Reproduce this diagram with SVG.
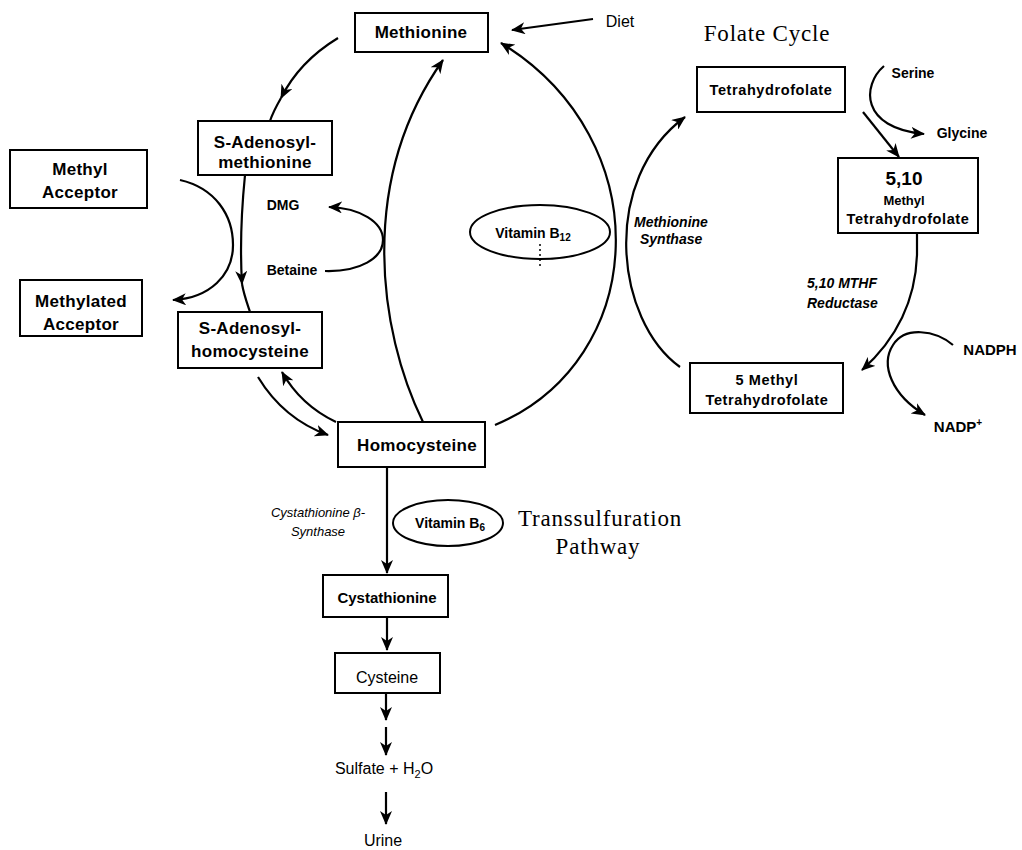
<svg xmlns="http://www.w3.org/2000/svg" width="1022" height="850" viewBox="0 0 1022 850">
<defs>
<marker id="ah" markerUnits="userSpaceOnUse" markerWidth="14" markerHeight="12" viewBox="0 0 14 12" refX="13" refY="6" orient="auto">
<path d="M0,0 L14,6 L0,12 L4,6 Z" fill="#000"/>
</marker>
<style>
.box{fill:#fff;stroke:#000;stroke-width:2}
.ell{fill:none;stroke:#000;stroke-width:2}
.c{fill:none;stroke:#000;stroke-width:2.2}
.a{marker-end:url(#ah)}
text{font-family:"Liberation Sans","DejaVu Sans",sans-serif;fill:#000;text-anchor:middle}
.m{font-size:17px;font-weight:bold;letter-spacing:0.3px}
.f{font-size:14.5px;font-weight:bold;letter-spacing:0.6px}
.s{font-size:14px;font-weight:bold}
.i{font-size:14px;font-weight:bold;font-style:italic;text-anchor:start}
.ir{font-size:13px;font-style:italic}
.r{font-size:16px}
.t{font-family:"Liberation Serif","DejaVu Serif",serif;font-size:23px;letter-spacing:0.8px}
</style>
</defs>

<g id="connectors">
<path class="c a" d="M593,19 L512,30"/>
<path class="c a" d="M338,38 C315,52 294,72 281,98"/>
<path class="c" d="M281,98 C277,105 273,112 270,121"/>
<path class="c a" d="M245,175 C241,215 240,250 242,284"/>
<path class="c" d="M242,284 C244,295 247,303 250,312"/>
<path class="c a" d="M180,180 C215,188 233,215 233,245 C233,275 210,298 173,300"/>
<path class="c a" d="M325,271 C360,272 383,258 383,240 C383,222 360,208 329,207"/>
<path class="c a" d="M423,422 C378,330 358,180 443,60"/>
<path class="c a" d="M495,425 C650,360 660,140 501,43"/>
<path class="c a" d="M680,367 C615,320 600,180 685,117"/>
<path class="c a" d="M863,112 L899,157"/>
<path class="c a" d="M884,66 C862,85 860,128 924,134"/>
<path class="c a" d="M917,233 L917,255 C915,310 890,345 862,370"/>
<path class="c a" d="M953,345 C935,330 905,326 893,345 C880,365 892,395 925,415"/>
<path class="c a" d="M258,377 C275,405 300,425 328,435"/>
<path class="c a" d="M336,422 C315,412 295,395 282,372"/>
<path class="c a" d="M387,467 L387,573"/>
<path class="c a" d="M387,617 L387,650"/>
<path class="c a" d="M386,693 L386,720"/>
<path class="c a" d="M386,727 L386,755"/>
<path class="c a" d="M386,792 L386,824"/>
<path d="M540,244 L540,267" fill="none" stroke="#000" stroke-width="1.5" stroke-dasharray="2,3"/>
</g>

<g id="methionine"><rect class="box" x="355" y="13" width="133" height="39"/><text class="m" x="421" y="38">Methionine</text></g>
<g id="diet"><text class="r" x="620" y="27">Diet</text></g>
<g id="folate-title"><text class="t" x="767" y="41">Folate Cycle</text></g>
<g id="sam"><rect class="box" x="198" y="121" width="134" height="54"/><text class="m" x="265" y="148">S-Adenosyl-</text><text class="m" x="265" y="168">methionine</text></g>
<g id="methyl-acceptor"><rect class="box" x="10" y="150" width="137" height="58"/><text class="m" x="80" y="175">Methyl</text><text class="m" x="80" y="198">Acceptor</text></g>
<g id="methylated-acceptor"><rect class="box" x="20" y="280" width="122" height="56"/><text class="m" x="81" y="307">Methylated</text><text class="m" x="81" y="330">Acceptor</text></g>
<g id="dmg"><text class="s" x="283" y="210">DMG</text></g>
<g id="betaine"><text class="s" x="292" y="275">Betaine</text></g>
<g id="vitb12"><ellipse class="ell" cx="540" cy="232" rx="70" ry="27"/><text class="s" x="533" y="238">Vitamin B<tspan font-size="10" dy="3">12</tspan></text></g>
<g id="ms-label"><text class="i" x="634" y="227">Methionine</text><text class="i" x="640" y="244">Synthase</text></g>
<g id="thf"><rect class="box" x="697" y="67" width="148" height="45"/><text class="f" x="771" y="95">Tetrahydrofolate</text></g>
<g id="serine"><text class="s" x="913" y="78">Serine</text></g>
<g id="glycine"><text class="s" x="962" y="138">Glycine</text></g>
<g id="mthf510"><rect class="box" x="838" y="158" width="140" height="75"/><text x="904" y="185" style="font-size:19px;font-weight:bold">5,10</text><text class="s" x="904" y="205" style="font-size:13px">Methyl</text><text class="f" x="908" y="224">Tetrahydrofolate</text></g>
<g id="mthfr-label"><text class="i" x="807" y="288">5,10 MTHF</text><text class="i" x="807" y="308">Reductase</text></g>
<g id="mthf5"><rect class="box" x="690" y="363" width="153" height="50"/><text class="f" x="767" y="385">5 Methyl</text><text class="f" x="767" y="405">Tetrahydrofolate</text></g>
<g id="nadph"><text class="s" x="990" y="355" style="font-size:15px">NADPH</text></g>
<g id="nadp"><text class="s" x="958" y="432" style="font-size:15px">NADP<tspan font-size="10" dy="-6">+</tspan></text></g>
<g id="sah"><rect class="box" x="178" y="312" width="144" height="56"/><text class="m" x="250" y="334">S-Adenosyl-</text><text class="m" x="250" y="357">homocysteine</text></g>
<g id="homocysteine"><rect class="box" x="338" y="422" width="147" height="45"/><text class="m" x="417" y="451">Homocysteine</text></g>
<g id="cbs-label"><text class="ir" x="318" y="517">Cystathionine β-</text><text class="ir" x="318" y="536">Synthase</text></g>
<g id="vitb6"><ellipse class="ell" cx="448" cy="523" rx="55" ry="23"/><text class="s" x="450" y="528">Vitamin B<tspan font-size="10" dy="3">6</tspan></text></g>
<g id="trans-title"><text class="t" x="600" y="526">Transsulfuration</text><text class="t" x="598" y="554">Pathway</text></g>
<g id="cystathionine"><rect class="box" x="323" y="575" width="125" height="42"/><text class="s" x="387" y="603" style="font-size:15px">Cystathionine</text></g>
<g id="cysteine"><rect class="box" x="335" y="653" width="105" height="40"/><text class="r" x="387" y="683">Cysteine</text></g>
<g id="sulfate"><text class="r" x="384" y="774">Sulfate + H<tspan font-size="11" dy="4">2</tspan><tspan dy="-4">O</tspan></text></g>
<g id="urine"><text class="r" x="383" y="846">Urine</text></g>
</svg>
